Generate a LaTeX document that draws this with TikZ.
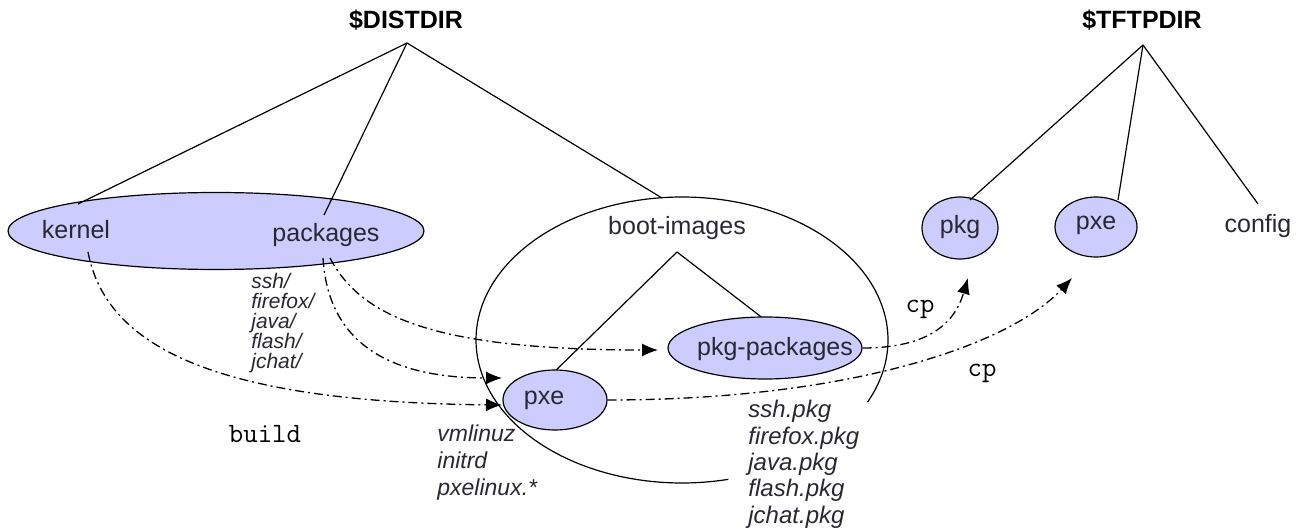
\documentclass[tikz,border=0pt]{standalone}
\usepackage{fontspec}
\setmainfont{Liberation Sans}
\usetikzlibrary{arrows.meta,shapes.geometric}
\definecolor{blobfill}{RGB}{204,204,255}
\definecolor{txt}{RGB}{40,40,50}
\tikzset{
  blob/.style={ellipse,draw=black,fill=blobfill,line width=0.6pt,inner sep=0pt},
  lbl/.style={font=\fontsize{12.5}{14}\selectfont,text=txt,inner sep=0pt},
  title/.style={font=\fontsize{12.5}{14}\selectfont\bfseries,inner sep=0pt},
  tt/.style={font=\fontsize{14}{16}\selectfont\ttfamily,inner sep=0pt},
  listl/.style={font=\fontsize{10.5}{10}\selectfont\itshape,text=txt,align=left,inner sep=0pt,anchor=north west},
  listr/.style={font=\fontsize{12}{13.2}\selectfont\itshape,text=txt,align=left,inner sep=0pt,anchor=north west},
  tree/.style={line width=0.6pt},
  flow/.style={line width=0.65pt,dash pattern=on 4.5pt off 2pt on 1pt off 2pt,-{Latex[length=8pt,width=6.5pt]}}
}
\begin{document}
\begin{tikzpicture}[x=0.5pt,y=-0.5pt]
\useasboundingbox (0,0) rectangle (1307,529);
% titles
\node[title] (dist) at (406,20) {\$DISTDIR};
\node[title] (tftp) at (1142,20) {\$TFTPDIR};
\coordinate (da) at (407,43);
\coordinate (ta) at (1143,45);
% boot-images open ellipse
\draw[tree] plot[domain=77:385.7,samples=120,smooth] ({682+206*cos(\x)},{340+143*sin(\x)});
% big kernel/packages ellipse
\node[blob,minimum width=208pt,minimum height=38.5pt] (big) at (216,231) {};
\node[lbl] (kernel) at (76,230) {kernel};
\node[lbl] (packages) at (326,235) {packages};
% tree lines from DISTDIR
\coordinate (kend) at (78,204);
\coordinate (pend) at (324,215);
\coordinate (bend) at (662,198);
\draw[tree] (da) -- (kend);
\draw[tree] (da) -- (pend);
\draw[tree] (da) -- (bend);
% boot-images children
\node[lbl] (boot) at (677,228) {boot-images};
\coordinate (bapex) at (677,252);
\coordinate (pxend) at (548,378);
\coordinate (ppend) at (773,326);
\draw[tree] (bapex) -- (pxend);
\draw[tree] (bapex) -- (ppend);
\node[blob,minimum width=97pt,minimum height=31pt] (pkgpk) at (765,348) {};
\node[lbl] (pkgpkt) at (775,349) {pkg-packages};
\node[blob,minimum width=52pt,minimum height=30pt] (pxe) at (555,400) {};
\node[lbl] (pxet) at (544,400) {pxe};
% TFTP tree
\node[blob,minimum width=38pt,minimum height=31pt] (tpkg) at (960,228) {};
\node[lbl] (tpkgt) at (960,227) {pkg};
\node[blob,minimum width=41pt,minimum height=30pt] (tpxe) at (1096,227) {};
\node[lbl] (tpxet) at (1096,225) {pxe};
\node[lbl] (config) at (1258,226) {config};
\coordinate (tk) at (970,200);
\coordinate (tx) at (1118,200);
\coordinate (tc) at (1258,204);
\draw[tree] (ta) -- (tk);
\draw[tree] (ta) -- (tx);
\draw[tree] (ta) -- (tc);
% lists
\node[listl] (dirs) at (251,273) {ssh/\\firefox/\\java/\\flash/\\jchat/};
\node[listl,font=\fontsize{11.5}{13.5}\selectfont\itshape] (bootfiles) at (437,424) {vmlinuz\\initrd\\pxelinux.*};
\node[listr] (pkgs) at (748,400) {ssh.pkg\\firefox.pkg\\java.pkg\\flash.pkg\\jchat.pkg};
% mono labels
\node[tt] (build) at (265,434) {build};
\node[tt] (cp1) at (920,309) {cp};
\node[tt] (cp2) at (982,373) {cp};
% flows
\coordinate (k0) at (88,252);
\coordinate (p0) at (323,258);
\coordinate (p1) at (330,258);
\coordinate (t1) at (502,405);
\coordinate (t2) at (502,378);
\coordinate (t3) at (658,350);
\coordinate (t4) at (968,278);
\coordinate (t5) at (1072,278);
\draw[flow] (k0) .. controls (105,340) and (200,402) .. (t1);
\draw[flow] (p0) .. controls (328,340) and (385,378) .. (t2);
\draw[flow] (p1) .. controls (360,315) and (430,350) .. (t3);
\draw[flow] (pkgpk.east) .. controls (930,348) and (955,322) .. (t4);
\draw[flow] (pxe.east) .. controls (850,400) and (1010,345) .. (t5);
\end{tikzpicture}
\end{document}
